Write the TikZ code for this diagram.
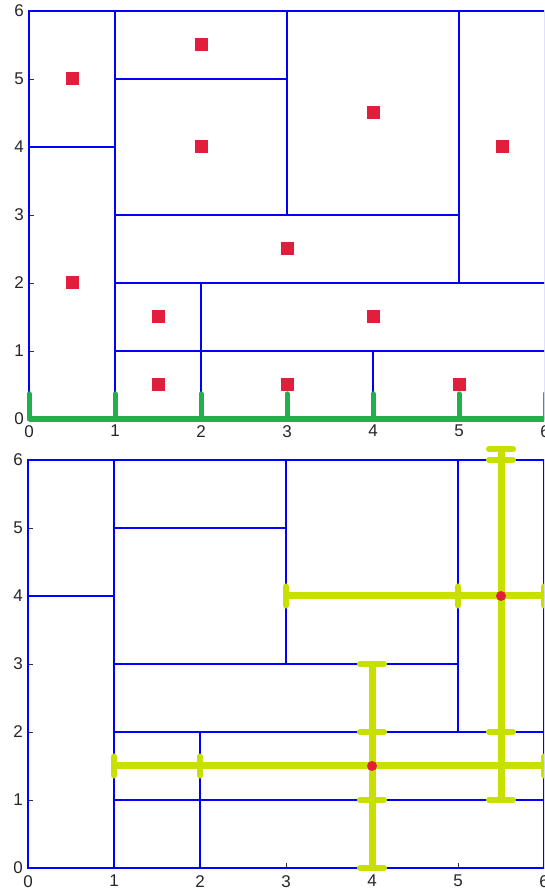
\documentclass[tikz,border=0pt]{standalone}
\usepackage{fontspec}
\setmainfont{Liberation Sans}
\definecolor{pblue}{RGB}{0,0,255}
\definecolor{pred}{RGB}{226,30,60}
\definecolor{pgreen}{RGB}{34,176,76}
\definecolor{pyel}{RGB}{200,224,0}
\definecolor{ptick}{RGB}{50,50,50}
\tikzset{
  gridline/.style={draw=pblue,line width=1.3pt},
  axtick/.style={draw=ptick,line width=0.8pt},
  lab/.style={font=\fontsize{17}{17}\selectfont,inner sep=0pt,text=black!85},
  redsq/.style={rectangle,fill=pred,draw=none,minimum size=13pt,inner sep=0pt},
  reddot/.style={circle,fill=pred,draw=none,minimum size=10pt,inner sep=0pt},
  gline/.style={draw=pgreen,line width=6.5pt},
  gtick/.style={draw=pgreen,line width=5pt,line cap=round},
  yline/.style={draw=pyel,line width=7pt},
  ycap/.style={draw=pyel,line width=6pt,line cap=round}
}
\newcommand{\drawpartition}{%
    \draw[gridline] (0,0) rectangle (6,6);
    \draw[gridline] (1,0) -- (1,6);
    \draw[gridline] (0,4) -- (1,4);
    \draw[gridline] (1,5) -- (3,5);
    \draw[gridline] (3,3) -- (3,6);
    \draw[gridline] (5,2) -- (5,6);
    \draw[gridline] (1,3) -- (5,3);
    \draw[gridline] (1,2) -- (6,2);
    \draw[gridline] (2,0) -- (2,2);
    \draw[gridline] (1,1) -- (6,1);
    \draw[gridline] (4,0) -- (4,1);
}
\begin{document}
\begin{tikzpicture}[x=1pt,y=1pt]
\useasboundingbox (0,0) rectangle (544,894);
\clip (0,0) rectangle (544,894);
\fill[white] (0,0) rectangle (544,894);

% ---------------- top plot ----------------
\begin{scope}[shift={(29pt,475pt)},x=86pt,y=68pt]
  \foreach \k in {1,...,5} {
    \draw[axtick] (0,\k) -- ++(5pt,0);
  }
  \drawpartition
  \foreach \k in {0,...,6} {
    \node[lab,anchor=east] (ty\k) at ([xshift=-5pt]0,\k) {\k};
    \node[lab,anchor=north] (tx\k) at ([yshift=-6pt]\k,0) {\k};
  }
  \draw[gline] (0,0) -- (6.2,0);
  \foreach \k in {0,...,6} {
    \draw[gtick] (\k,0) -- (\k,0.37);
  }
  \foreach \p/\q [count=\n] in {0.5/5,2/5.5,2/4,4/4.5,5.5/4,3/2.5,0.5/2,1.5/1.5,4/1.5,1.5/0.5,3/0.5,5/0.5} {
    \node[redsq] (sq\n) at (\p,\q) {};
  }
\end{scope}

% ---------------- bottom plot ----------------
\begin{scope}[shift={(28pt,26pt)},x=86pt,y=68pt]
  \foreach \k in {1,...,5} {
    \draw[axtick] (0,\k) -- ++(5pt,0);
    \draw[axtick] (\k,0) -- ++(0,5pt);
  }
  \drawpartition
  \foreach \k in {0,...,6} {
    \node[lab,anchor=east] (by\k) at ([xshift=-5pt]0,\k) {\k};
    \node[lab,anchor=north] (bx\k) at ([yshift=-7pt]\k,0) {\k};
  }
  % horizontal bar at y=4
  \draw[yline] (3,4) -- (6.3,4);
  \foreach \c in {3,5,6} { \draw[ycap] (\c,3.86) -- (\c,4.14); }
  % horizontal bar at y=1.5
  \draw[yline] (1,1.5) -- (6.3,1.5);
  \foreach \c in {1,2,6} { \draw[ycap] (\c,1.36) -- (\c,1.64); }
  % vertical bar at x=4
  \draw[yline] (4,0) -- (4,3);
  \foreach \c in {0,1,2,3} { \draw[ycap] (3.86,\c) -- (4.14,\c); }
  % vertical bar at x=5.5
  \draw[yline] (5.5,1) -- (5.5,6.16);
  \foreach \c in {1,2,6,6.16} { \draw[ycap] (5.36,\c) -- (5.64,\c); }
  \node[reddot] (d1) at (5.5,4) {};
  \node[reddot] (d2) at (4,1.5) {};
\end{scope}
\end{tikzpicture}
\end{document}
